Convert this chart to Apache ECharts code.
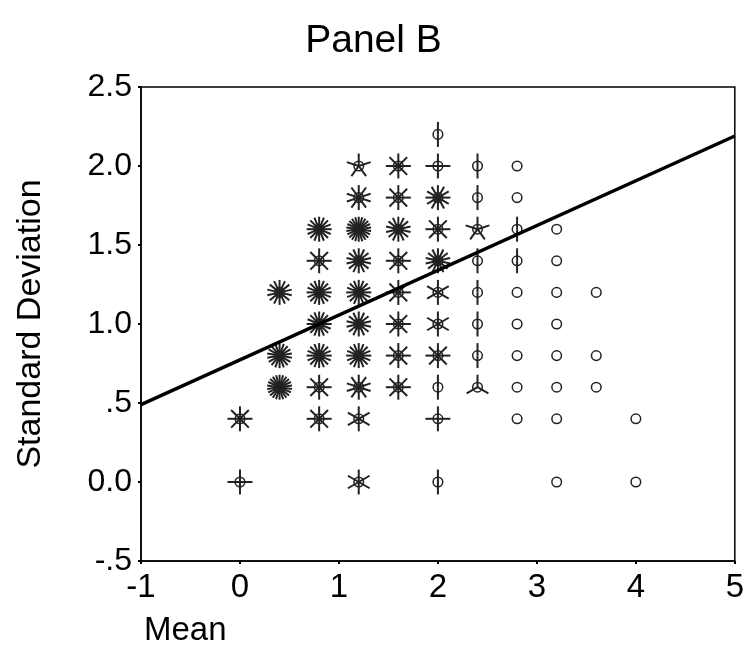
<!DOCTYPE html>
<html><head><meta charset="utf-8">
<script src="https://cdn.jsdelivr.net/npm/echarts@6/dist/echarts.min.js"></script>
<style>html,body{margin:0;padding:0;background:#fff}#c{width:747px;height:667px}</style>
</head><body><div id="c"></div>
<script>
// Sunflower points: mean, sd, number of observations (petals)
var means = [2.0,
  1.2,1.6,2.0,2.4,2.8,
  1.2,1.6,2.0,2.4,2.8,
  0.8,1.2,1.6,2.0,2.4,2.8,3.2,
  0.8,1.2,1.6,2.0,2.4,2.8,3.2,
  0.4,0.8,1.2,1.6,2.0,2.4,2.8,3.2,3.6,
  0.8,1.2,1.6,2.0,2.4,2.8,3.2,
  0.4,0.8,1.2,1.6,2.0,2.4,2.8,3.2,3.6,
  0.4,0.8,1.2,1.6,2.0,2.4,2.8,3.2,3.6,
  0.0,0.8,1.2,2.0,2.8,3.2,4.0,
  0.0,1.2,2.0,3.2,4.0];
var sds = [2.2,
  2.0,2.0,2.0,2.0,2.0,
  1.8,1.8,1.8,1.8,1.8,
  1.6,1.6,1.6,1.6,1.6,1.6,1.6,
  1.4,1.4,1.4,1.4,1.4,1.4,1.4,
  1.2,1.2,1.2,1.2,1.2,1.2,1.2,1.2,1.2,
  1.0,1.0,1.0,1.0,1.0,1.0,1.0,
  0.8,0.8,0.8,0.8,0.8,0.8,0.8,0.8,0.8,
  0.6,0.6,0.6,0.6,0.6,0.6,0.6,0.6,0.6,
  0.4,0.4,0.4,0.4,0.4,0.4,0.4,
  0.0,0.0,0.0,0.0,0.0];
var counts = [2,
  5,8,4,2,1,
  10,8,12,2,1,
  16,22,14,8,5,2,1,
  8,14,8,14,2,2,1,
  14,16,16,8,6,2,1,1,1,
  16,14,8,6,2,1,1,
  18,16,16,8,8,2,1,1,1,
  22,8,10,8,2,3,1,1,1,
  8,8,6,4,1,1,1,
  4,6,2,1,1];
// Fit line endpoints
var fitX = [-1, 5];
var fitY = [0.49, 2.19];
var xTicks = ['-1','0','1','2','3','4','5'];
var yTicks = {'-0.5':'-.5','0':'0.0','0.5':'.5','1':'1.0','1.5':'1.5','2':'2.0','2.5':'2.5'};

var pts = means.map(function(m,i){return [m, sds[i], counts[i]];});
var FONT = '"Liberation Sans", Arial, sans-serif';
var chart = echarts.init(document.getElementById('c'));
chart.setOption({
  animation:false,
  backgroundColor:'#fff',
  title:{text:'Panel B', left:'center', top:17, textStyle:{fontFamily:FONT, fontSize:39, fontWeight:'normal', color:'#000'}},
  grid:{left:141, right:10, top:87, bottom:106, show:true, borderColor:'#000', borderWidth:1.5},
  graphic:[{type:'text', left:144, top:614, style:{text:'Mean', font:'33px ' + FONT, fill:'#000'}}],
  xAxis:{type:'value', min:-1, max:5, interval:1,
    axisLine:{onZero:false, lineStyle:{color:'#000', width:1.5}}, axisTick:{show:true, length:3, lineStyle:{color:'#000', width:2}},
    splitLine:{show:false},
    axisLabel:{fontFamily:FONT, fontSize:33, color:'#000', margin:10, formatter:function(v){return xTicks[Math.round(v)+1];}}},
  yAxis:{type:'value', min:-0.5, max:2.5, interval:0.5,
    name:'Standard Deviation', nameLocation:'middle', nameGap:93, nameRotate:90,
    nameTextStyle:{fontFamily:FONT, fontSize:34, color:'#000'},
    axisLine:{onZero:false, lineStyle:{color:'#000', width:1.5}}, axisTick:{show:true, length:3, lineStyle:{color:'#000', width:2}},
    splitLine:{show:false},
    axisLabel:{fontFamily:FONT, fontSize:32, color:'#000', margin:9, formatter:function(v){return yTicks[String(v)];}}},
  series:[
    {type:'custom', data:pts, z:3,
      renderItem:function(params, api){
        var c = api.coord([api.value(0), api.value(1)]);
        var n = api.value(2);
        var kids = [{type:'circle', shape:{cx:c[0], cy:c[1], r:4.8}, style:{fill:'none', stroke:'#222', lineWidth:1.5}}];
        if(n>=2){
          var L = 12.5;
          for(var k=0;k<n;k++){
            var a = -Math.PI/2 + 2*Math.PI*k/n;
            kids.push({type:'line', shape:{x1:c[0], y1:c[1], x2:c[0]+L*Math.cos(a), y2:c[1]+L*Math.sin(a)}, style:{stroke:'#222', lineWidth:2}});
          }
        }
        return {type:'group', children:kids};
      }},
    {type:'line', data:fitX.map(function(x,i){return [x, fitY[i]];}), symbol:'none', z:4,
      lineStyle:{color:'#000', width:3.5}}
  ]
});
</script></body></html>
